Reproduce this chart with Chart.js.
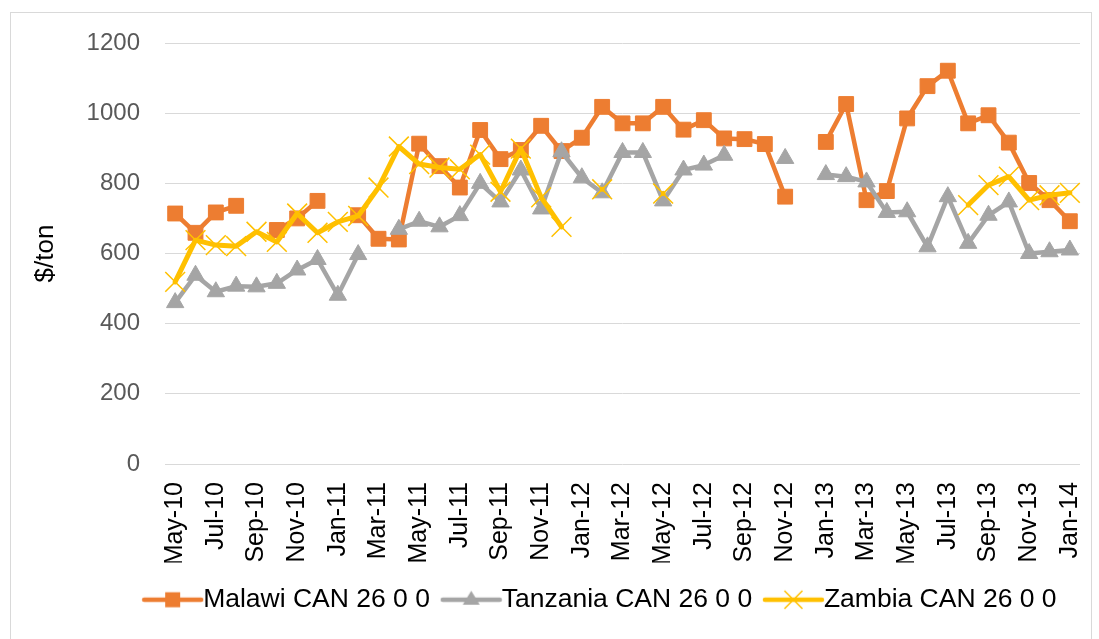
<!DOCTYPE html>
<html lang="en">
<head>
  <meta charset="UTF-8">
  <title>CAN 26 0 0 prices</title>
  <style>
    body {
      margin: 0;
      background: #fff;
    }
    .frame {
      position: absolute;
      left: 10px;
      top: 12px;
      width: 1080px;
      height: 640px;
      border: 1px solid #d9d9d9;
    }
    #chart {
      position: absolute;
      left: 0;
      top: 0;
    }
  </style>
</head>
<body>
  <div class="frame"></div>
  <canvas id="chart" width="1099" height="639"></canvas>

  <script src="https://cdn.jsdelivr.net/npm/chart.js"></script>
  <script>
    // Monthly prices, May-10 .. Jan-14 ($/ton), null = no quote
    const months = [
      "May-10", "Jun-10", "Jul-10", "Aug-10", "Sep-10", "Oct-10", "Nov-10", "Dec-10",
      "Jan-11", "Feb-11", "Mar-11", "Apr-11", "May-11", "Jun-11", "Jul-11", "Aug-11",
      "Sep-11", "Oct-11", "Nov-11", "Dec-11",
      "Jan-12", "Feb-12", "Mar-12", "Apr-12", "May-12", "Jun-12", "Jul-12", "Aug-12",
      "Sep-12", "Oct-12", "Nov-12", "Dec-12",
      "Jan-13", "Feb-13", "Mar-13", "Apr-13", "May-13", "Jun-13", "Jul-13", "Aug-13",
      "Sep-13", "Oct-13", "Nov-13", "Dec-13",
      "Jan-14"
    ];

    const malawi = [
      714, 659, 717, 736, null, 667, 700, 750, null, 709,
      642, 640, 913, 849, 788, 952, 869, 895, 964, 892,
      930, 1018, 971, 971, 1018, 953, 980, 928, 926, 912,
      762, null, 918, 1026, 752, 778, 985, 1077, 1121, 971,
      994, 916, 801, 752, 692
    ];

    const tanzania = [
      460, 538, 491, 507, 505, 515, 553, 583, 481, 597,
      null, 669, 692, 676, 708, 800, 747, 838, 727, 890,
      816, 773, 888, 888, 750, 838, 852, 880, null, null,
      871, null, 825, 819, 804, 717, 719, 619, 762, 629,
      709, 747, 600, 605, 610
    ];

    const zambia = [
      519, 638, 624, 621, 662, 633, 714, 659, 690, 707,
      788, 905, 855, 845, 840, 882, 776, 899, 760, 676,
      null, 783, null, null, 771, null, null, null, null, null,
      null, null, null, null, null, null, null, null, null, 738,
      795, 819, 752, 766, 773
    ];

    const seriesNames = ["Malawi CAN 26 0 0", "Tanzania CAN 26 0 0", "Zambia CAN 26 0 0"];

    const ORANGE = "#ED7D31";
    const GREY = "#A5A5A5";
    const GOLD = "#FFC000";

    Chart.defaults.font.family = "'Liberation Sans', Arial, sans-serif";

    // Small line + marker picture for each legend entry
    function legendIcon(color, shape) {
      const c = document.createElement("canvas");
      c.width = 63;
      c.height = 24;
      const ctx = c.getContext("2d");
      const cx = 31.5, cy = 12;
      ctx.strokeStyle = color;
      ctx.fillStyle = color;
      ctx.lineWidth = 4.5;
      ctx.lineCap = "round";
      ctx.beginPath();
      ctx.moveTo(3, cy);
      ctx.lineTo(60, cy);
      ctx.stroke();

      ctx.beginPath();
      if (shape === "rect") {
        ctx.rect(cx - 7.5, cy - 7.5, 15, 15);
        ctx.fill();
      } else if (shape === "triangle") {
        ctx.moveTo(cx, cy - 9);
        ctx.lineTo(cx + 8.5, cy + 5);
        ctx.lineTo(cx - 8.5, cy + 5);
        ctx.closePath();
        ctx.fill();
      } else {
        ctx.lineWidth = 1.5;
        ctx.lineCap = "butt";
        ctx.moveTo(cx - 9, cy - 9);
        ctx.lineTo(cx + 9, cy + 9);
        ctx.moveTo(cx + 9, cy - 9);
        ctx.lineTo(cx - 9, cy + 9);
        ctx.stroke();
      }
      return c;
    }

    const legendIcons = [
      legendIcon(ORANGE, "rect"),
      legendIcon(GREY, "triangle"),
      legendIcon(GOLD, "crossRot")
    ];

    // Centre the legend under the plot the way the original sheet does
    const legendShift = {
      id: "legendShift",
      afterLayout(chart) {
        chart.legend.left += 61;
        chart.legend.right += 61;
      }
    };

    new Chart(document.getElementById("chart"), {
      type: "line",
      data: {
        labels: months,
        datasets: [
          {
            label: seriesNames[0],
            data: malawi,
            order: 3,
            borderColor: ORANGE,
            backgroundColor: ORANGE,
            borderWidth: 4.5,
            pointStyle: "rect",
            pointRadius: 10.5,
            pointBorderWidth: 1
          },
          {
            label: seriesNames[1],
            data: tanzania,
            order: 2,
            borderColor: GREY,
            backgroundColor: GREY,
            borderWidth: 4.5,
            pointStyle: "triangle",
            pointRadius: 10,
            pointBorderWidth: 1
          },
          {
            label: seriesNames[2],
            data: zambia,
            order: 1,
            borderColor: GOLD,
            backgroundColor: GOLD,
            borderWidth: 5,
            pointStyle: "crossRot",
            pointRadius: 14,
            pointBorderWidth: 1.5
          }
        ]
      },
      options: {
        responsive: false,
        animation: false,
        elements: {
          line: { tension: 0, borderCapStyle: "round", borderJoinStyle: "round" }
        },
        layout: {
          padding: { left: 10, right: 19, top: 43, bottom: 16 }
        },
        plugins: {
          tooltip: { enabled: false },
          legend: {
            position: "bottom",
            labels: {
              usePointStyle: true,
              pointStyleWidth: 34.5,
              padding: 24,
              color: "#000",
              font: { size: 26.5 },
              generateLabels: chart => chart.data.datasets.map((ds, i) => ({
                text: ds.label,
                datasetIndex: i,
                pointStyle: legendIcons[i],
                fillStyle: ds.borderColor,
                strokeStyle: ds.borderColor,
                lineWidth: 0,
                hidden: !chart.isDatasetVisible(i)
              }))
            }
          }
        },
        scales: {
          x: {
            offset: true,
            grid: { display: false },
            border: { display: false },
            ticks: {
              autoSkip: false,
              minRotation: 90,
              maxRotation: 90,
              padding: 10,
              color: "#000",
              font: { size: 25 },
              callback: (value, index) => (index % 2 === 0 ? months[index] : "")
            },
            afterFit: scale => {
              scale.height = 98.5;
              scale.paddingLeft = 0;
              scale.paddingRight = 0;
            }
          },
          y: {
            min: 0,
            max: 1200,
            ticks: {
              stepSize: 200,
              padding: 25,
              color: "#595959",
              font: { size: 24 },
              callback: value => String(value)
            },
            grid: { color: "#d9d9d9", lineWidth: 1, drawTicks: false },
            border: { display: false },
            title: {
              display: true,
              text: "$/ton",
              color: "#000",
              font: { size: 26 },
              padding: { top: 20, bottom: 0 }
            },
            afterFit: scale => { scale.width = 155; }
          }
        }
      },
      plugins: [legendShift]
    });
  </script>
</body>
</html>
